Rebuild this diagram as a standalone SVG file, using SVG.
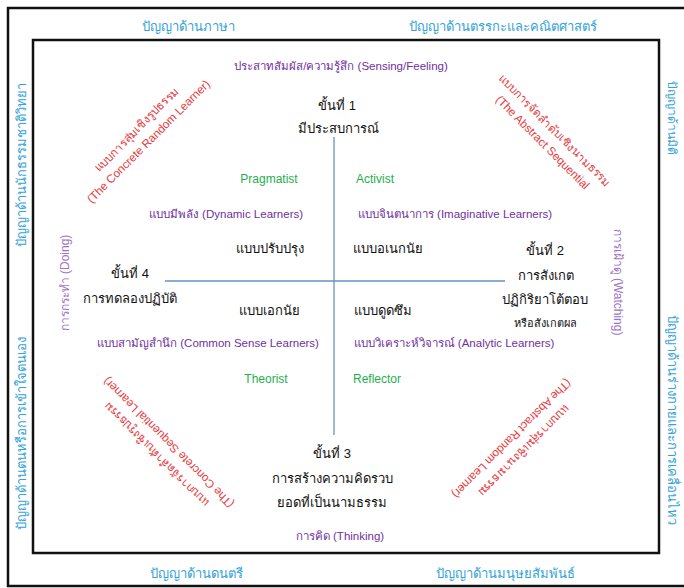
<svg xmlns="http://www.w3.org/2000/svg" width="684" height="588" viewBox="0 0 684 588">
<style>
text{font-family:"Liberation Sans","Noto Sans",sans-serif;}
.blue{fill:#33a3d8;font-size:13px;}
.pur{fill:#7030a0;font-size:11.5px;}
.lp{fill:#9b72c8;font-size:12px;}
.grn{fill:#1fae4f;font-size:12px;}
.red{fill:#e8383c;font-size:11.6px;}
.blk{fill:#111;font-size:13px;}
.m{text-anchor:middle;}
.frame{fill:none;stroke:#111;stroke-width:2.5;}
.axis{stroke:#6b8fc2;stroke-width:1.3;fill:none;}
</style>
<rect width="684" height="588" fill="#fff"/>
<g id="frames">
<rect class="frame" x="8" y="8" width="690" height="578"/>
<rect class="frame" x="33" y="40" width="626" height="513"/>
</g>
<g id="connectors">
<line class="axis" x1="334" y1="137" x2="334" y2="435"/>
<line class="axis" x1="165" y1="281" x2="505" y2="281"/>
</g>
<g id="intelligences">
<text class="blue m" x="188" y="31">ปัญญาด้านภาษา</text>
<text class="blue m" x="503" y="31">ปัญญาด้านตรรกะและคณิตศาสตร์</text>
<text class="blue m" x="196" y="578">ปัญญาด้านดนตรี</text>
<text class="blue m" x="505" y="578">ปัญญาด้านมนุษยสัมพันธ์</text>
<text class="blue m" transform="translate(26,165) rotate(-90)">ปัญญาด้านนักธรรมชาติวิทยา</text>
<text class="blue m" transform="translate(26,433) rotate(-90)">ปัญญาด้านตนหรือการเข้าใจตนเอง</text>
<text class="blue m" transform="translate(668,118) rotate(90)" style="font-size:12px">ปัญญาด้านมิติ</text>
<text class="blue m" transform="translate(668,420) rotate(90)">ปัญญาด้านร่างกายและการเคลื่อนไหว</text>
</g>
<g id="perception">
<text class="pur m" x="341" y="70">ประสาทสัมผัส/ความรู้สึก (Sensing/Feeling)</text>
<text class="pur m" x="340" y="540">การคิด (Thinking)</text>
<text class="lp m" transform="translate(69,283) rotate(-90)">การกระทำ (Doing)</text>
<text class="lp m" transform="translate(614,282) rotate(90)">การเฝ้าดู (Watching)</text>
</g>
<g id="step1">
<text class="blk m" x="337" y="110">ขั้นที่ 1</text>
<text class="blk m" x="338" y="133">มีประสบการณ์</text>
</g>
<g id="step2">
<text class="blk m" x="545" y="255">ขั้นที่ 2</text>
<text class="blk m" x="546" y="280">การสังเกต</text>
<text class="blk m" x="545" y="304">ปฏิกิริยาโต้ตอบ</text>
<text class="blk m" x="545" y="327" style="font-size:11px">หรือสังเกตผล</text>
</g>
<g id="step3">
<text class="blk m" x="332" y="458">ขั้นที่ 3</text>
<text class="blk m" x="332" y="483">การสร้างความคิดรวบ</text>
<text class="blk m" x="332" y="507">ยอดที่เป็นนามธรรม</text>
</g>
<g id="step4">
<text class="blk m" x="130" y="278">ขั้นที่ 4</text>
<text class="blk m" x="130" y="303">การทดลองปฏิบัติ</text>
</g>
<g id="quadrant-tl">
<text class="grn m" x="269" y="183">Pragmatist</text>
<text class="pur m" x="226" y="218">แบบมีพลัง (Dynamic Learners)</text>
<text class="blk m" x="270" y="253">แบบปรับปรุง</text>
</g>
<g id="quadrant-tr">
<text class="grn m" x="375" y="183">Activist</text>
<text class="pur m" x="455" y="218">แบบจินตนาการ (Imaginative Learners)</text>
<text class="blk m" x="388" y="253">แบบอเนกนัย</text>
</g>
<g id="quadrant-bl">
<text class="blk m" x="269" y="315">แบบเอกนัย</text>
<text class="pur m" x="208" y="347">แบบสามัญสำนึก (Common Sense Learners)</text>
<text class="grn m" x="266" y="383">Theorist</text>
</g>
<g id="quadrant-br">
<text class="blk m" x="383" y="315">แบบดูดซึม</text>
<text class="pur m" x="454" y="347">แบบวิเคราะห์วิจารณ์ (Analytic Learners)</text>
<text class="grn m" x="377" y="383">Reflector</text>
</g>
<g id="style-concrete-random" transform="translate(142,135) rotate(-45)">
<text class="red m" y="-4">แบบการสุ่มเชิงรูปธรรม</text>
<text class="red m" y="13">(The Concrete Random Learner)</text>
</g>
<g id="style-abstract-sequential" transform="translate(549,136) rotate(45)">
<text class="red m" y="-4">แบบการจัดลำดับเชิงนามธรรม</text>
<text class="red m" y="13">(The Abstract Sequential</text>
</g>
<g id="style-concrete-sequential" transform="translate(162,449) rotate(225)">
<text class="red m" y="-4">แบบการจัดลำดับเชิงรูปธรรม</text>
<text class="red m" y="13">(The Concrete Sequential Learner)</text>
</g>
<g id="style-abstract-random" transform="translate(518,445) rotate(135)">
<text class="red m" y="-4">แบบการสุ่มเชิงนามธรรม</text>
<text class="red m" y="13">(The Abstract Random Learner)</text>
</g>
</svg>
